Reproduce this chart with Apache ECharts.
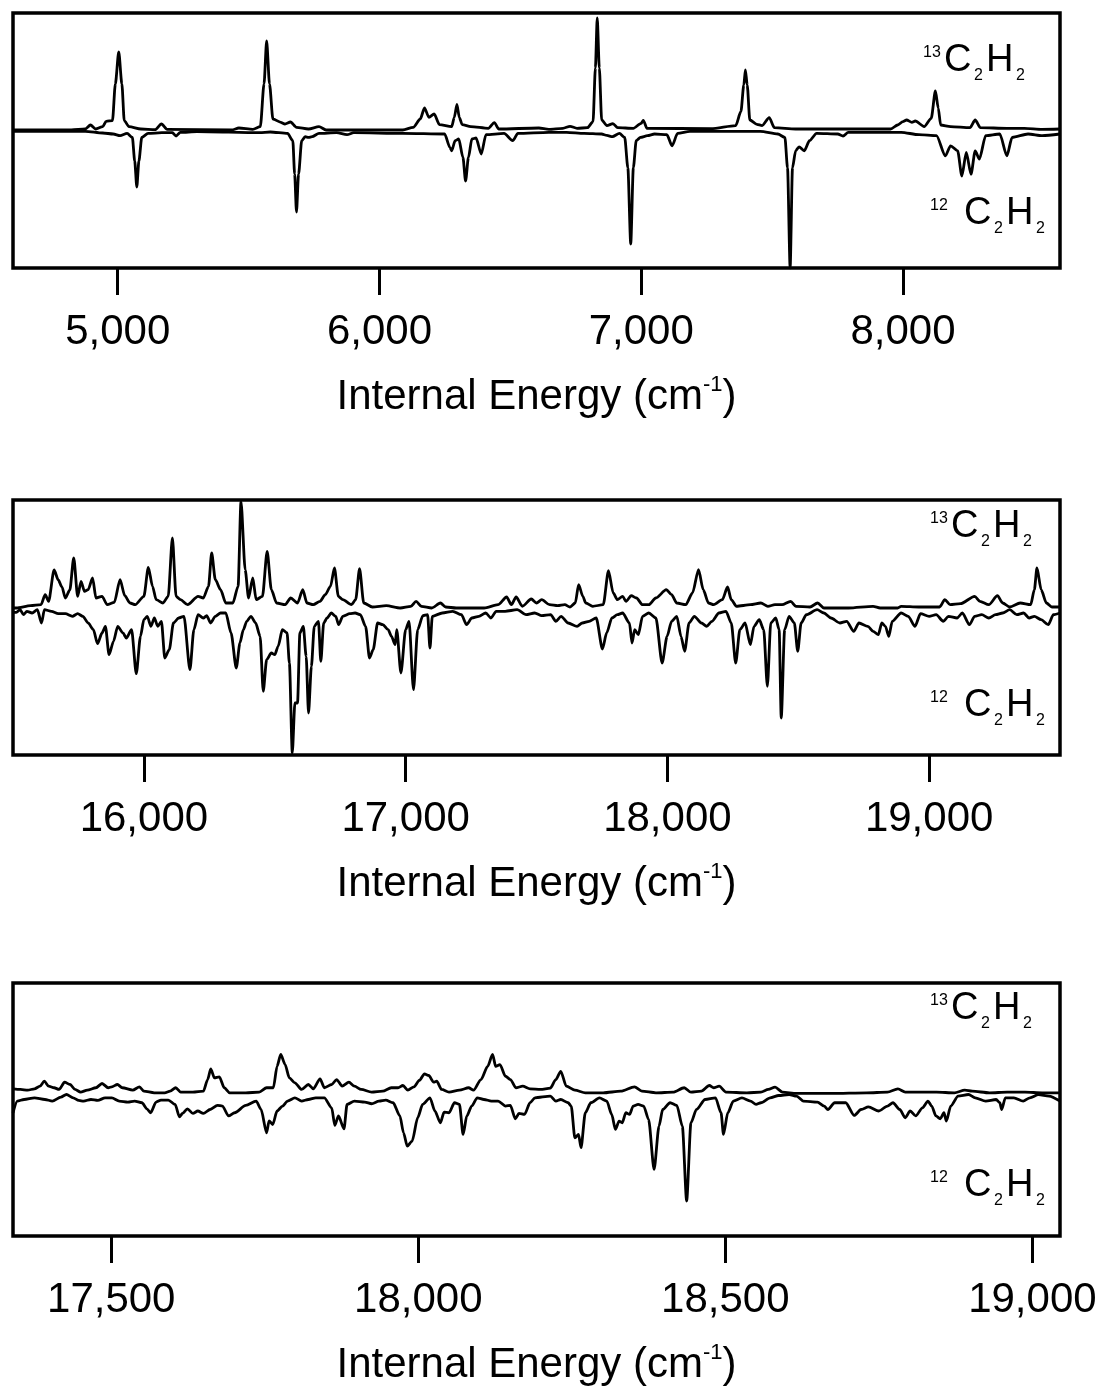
<!DOCTYPE html>
<html><head><meta charset="utf-8">
<script src="https://cdn.jsdelivr.net/npm/echarts@6/dist/echarts.min.js"></script>
<style>html,body{margin:0;padding:0;background:#fff}#c{width:1101px;height:1387px}</style>
</head><body><div id="c"></div>
<script>
// ---------- tick labels (cm-1) ----------
const ticks1 = [5000, 6000, 7000, 8000];
const ticks2 = [16000, 17000, 18000, 19000];
const ticks3 = [17500, 18000, 18500, 19000];

// ---------- panel 1 : 4600-8600 cm-1 ----------
const c13_p1 = [[4600,0],[4823,0],[4876,1],[4896,5],[4916,1],[4943,3.4],[4956,8.7],[4980,9.4],[4991,46],[5004,78],[5016,46],[5025,9.4],[5043,3.4],[5089,1],[5143,0.3],[5167,6],[5189,0.7],[5436,0],[5463,2],[5516,0.7],[5545,3.4],[5559,46],[5569,89],[5580,46],[5593,11],[5623,7.7],[5639,6],[5660,8],[5683,2.7],[5729,1],[5769,3.4],[5796,0],[6089,0],[6129,2.7],[6156,11],[6172,22],[6189,12.7],[6209,16],[6229,5.4],[6276,3.4],[6286,12.7],[6296,25.5],[6305,12.7],[6316,5.4],[6349,3.4],[6416,1.7],[6439,7.4],[6456,1],[6609,2],[6647,0.7],[6701,1.7],[6728,3.7],[6755,1.7],[6795,2.3],[6816,8.4],[6825,62],[6832,112],[6840,62],[6849,10],[6869,4.4],[6892,6.4],[6910,2.3],[6970,1.7],[7000,6.7],[7008,9.7],[7022,1.7],[7267,1.3],[7361,4.4],[7381,18.5],[7392,45],[7398,60],[7405,45],[7415,10],[7442,5.7],[7462,4.4],[7489,12.4],[7509,2.3],[7590,1],[7953,1],[7980,5],[8000,8.4],[8014,10],[8034,7.7],[8047,9],[8081,3.4],[8108,11.7],[8124,39],[8135,21.8],[8144,5],[8182,3.4],[8256,2.3],[8276,10],[8296,2.3],[8397,1.7],[8464,1.7],[8532,0.7],[8600,1]];
const c12_p1 = [[4600,-1.3],[4876,-1.3],[4943,-3],[4983,-4],[5009,-5.7],[5036,-3.4],[5056,-7.4],[5065,-31],[5073,-57],[5081,-31],[5092,-7.4],[5116,-3.4],[5169,-2.7],[5209,-2.7],[5223,-6],[5239,-2.3],[5303,-1.7],[5543,-2.7],[5583,-2],[5649,-3.4],[5669,-10.7],[5676,-44],[5683,-82],[5691,-44],[5703,-10.7],[5716,-6.7],[5729,-7.4],[5743,-6.7],[5769,-3.4],[5836,-2.7],[5876,-4.7],[5902,-2.7],[6089,-3.4],[6249,-4],[6269,-17.4],[6276,-20.8],[6289,-10.7],[6303,-9],[6319,-27.5],[6329,-51],[6340,-27.5],[6353,-9],[6369,-8],[6389,-24],[6407,-4.7],[6476,-3.4],[6509,-10.7],[6529,-3.4],[6647,-2.3],[6715,-2.3],[6782,-3.4],[6849,-4],[6869,-5.4],[6890,-6.7],[6917,-3.4],[6937,-7.4],[6949,-37.6],[6960,-114],[6970,-37.6],[6981,-10.7],[6997,-7.4],[7024,-5.7],[7051,-4],[7098,-4.7],[7118,-15.8],[7139,-3.4],[7186,-1.3],[7455,-1.3],[7522,-4],[7549,-7.4],[7559,-37.6],[7569,-138],[7578,-37.6],[7590,-20.8],[7603,-16.8],[7623,-20.8],[7643,-10.7],[7670,-3.4],[7751,-4],[7771,-6],[7791,-2.3],[7993,-2.3],[8061,-4.7],[8128,-5.7],[8162,-25.8],[8182,-15.8],[8209,-20.8],[8225,-46],[8242,-22.5],[8260,-44.3],[8276,-20.8],[8292,-29],[8316,-5.7],[8370,-4],[8397,-25.8],[8417,-7.4],[8478,-4],[8532,-5.7],[8600,-4]];

// ---------- panel 2 : 15500-19500 cm-1 ----------
const c13_p2 = [[15500,-1],[15513,-1],[15567,1.3],[15607,2.3],[15623,12.3],[15636,5.7],[15657,37],[15673,27],[15687,20],[15700,9],[15717,17],[15732,49],[15747,10.7],[15760,25.7],[15773,15.7],[15787,17.3],[15804,29],[15817,9],[15840,10.7],[15860,2.3],[15887,4.7],[15909,27.3],[15927,11.3],[15947,4],[15967,2.3],[16000,10.7],[16017,39.7],[16033,20.7],[16047,7.3],[16073,4],[16093,10.7],[16109,69],[16123,10.7],[16140,7.3],[16167,2.3],[16207,10.7],[16227,9],[16247,20.7],[16259,54],[16273,27.3],[16293,17.3],[16313,4],[16340,4],[16360,20.7],[16371,105.7],[16387,37.3],[16400,9],[16416,29],[16429,7.3],[16453,10.7],[16471,55.7],[16487,17.3],[16507,4],[16540,2.3],[16561,9],[16587,4],[16607,17.3],[16623,4],[16647,2.3],[16673,5.7],[16693,12.3],[16713,20.7],[16728,39],[16743,10.7],[16760,7.3],[16793,2.3],[16809,7.3],[16824,38.3],[16840,4],[16873,0],[16926,1.3],[16980,-1],[17020,0.7],[17040,5.7],[17060,0.7],[17100,-1],[17133,4],[17153,0],[17193,-1],[17300,-1],[17353,2.3],[17386,10],[17404,2.3],[17422,10],[17446,0.7],[17480,8],[17500,4],[17520,7.3],[17550,2.3],[17581,1.3],[17608,2.3],[17628,0],[17648,4],[17661,22.3],[17677,10.7],[17688,4],[17715,0.7],[17755,2.3],[17775,36.3],[17793,14],[17809,7.3],[17829,10.7],[17842,5.7],[17862,11.3],[17882,9],[17905,2.3],[17929,2.3],[17956,9],[17996,17.3],[18016,12.3],[18036,4],[18070,2.3],[18096,14],[18119,37.3],[18137,17.3],[18157,4],[18177,2.3],[18210,7.3],[18230,20],[18244,7.3],[18264,0.7],[18317,2.3],[18357,4],[18384,0.7],[18411,2.3],[18438,2.3],[18471,5.7],[18491,0.7],[18545,0],[18574,4],[18598,-1],[18692,-1],[18786,0.7],[18813,-1],[18880,-1],[18893,0.7],[18960,0],[19040,0],[19060,7.3],[19080,2.3],[19120,3.3],[19174,10.7],[19194,5.7],[19228,2.3],[19261,11.3],[19281,4],[19308,0],[19348,4],[19388,2.3],[19402,17.3],[19412,39],[19428,17.3],[19448,4],[19469,0],[19500,0]];
const c12_p2 = [[15500,-5.3],[15513,-5.3],[15527,-2.7],[15540,-7.7],[15553,-4.3],[15573,-6],[15593,-2.7],[15609,-16],[15620,-2.7],[15647,-4.3],[15673,-6.7],[15700,-6.7],[15727,-9.3],[15747,-6.7],[15767,-9.3],[15787,-16],[15807,-22.7],[15823,-36.7],[15840,-26],[15853,-19.3],[15867,-47.7],[15884,-34.3],[15900,-19.3],[15920,-26],[15933,-31],[15953,-22.7],[15971,-66.7],[15987,-29.3],[16000,-12.7],[16013,-9.3],[16027,-19.3],[16040,-11],[16053,-19.3],[16067,-14.3],[16080,-51],[16097,-42.7],[16113,-16],[16133,-11],[16153,-9.3],[16176,-62.7],[16191,-22.7],[16207,-7.7],[16227,-11],[16240,-8.7],[16255,-16],[16273,-9.3],[16293,-6],[16313,-6],[16333,-26],[16353,-61],[16367,-36],[16380,-22.7],[16393,-14.3],[16409,-9.3],[16427,-16],[16444,-29.3],[16456,-84.3],[16469,-52.7],[16487,-46],[16500,-47.7],[16513,-39.3],[16529,-22.7],[16547,-26],[16556,-56],[16567,-146],[16577,-96],[16587,-96],[16596,-26],[16609,-19.3],[16620,-49.3],[16629,-106],[16640,-59.3],[16651,-19.3],[16667,-14.3],[16676,-54.3],[16687,-16],[16700,-11],[16716,-6],[16733,-9.3],[16744,-17.7],[16760,-9.3],[16787,-6.7],[16807,-6],[16827,-7.7],[16847,-19.3],[16862,-51],[16876,-42.7],[16893,-16],[16913,-17.7],[16933,-22.7],[16946,-29.3],[16960,-37.7],[16966,-22.7],[16982,-66],[17000,-22.7],[17013,-14.3],[17030,-82.7],[17046,-22.7],[17066,-8.7],[17084,-7.7],[17093,-41],[17102,-9.3],[17140,-6],[17180,-4.3],[17213,-7.7],[17233,-17.7],[17253,-11],[17280,-9.3],[17306,-6],[17326,-11],[17346,-4.3],[17380,-4.3],[17426,-2.7],[17460,-7.7],[17493,-6],[17520,-8.7],[17554,-7.7],[17574,-14.3],[17594,-9.3],[17621,-16],[17655,-19.3],[17675,-16],[17701,-14.3],[17728,-11],[17752,-42],[17768,-26],[17788,-11],[17809,-7.7],[17829,-6],[17855,-16],[17865,-36],[17875,-22.7],[17889,-27.7],[17905,-9.3],[17929,-6],[17956,-11],[17980,-56],[17999,-29.3],[18016,-14.3],[18036,-9.3],[18052,-29.3],[18066,-44.3],[18083,-16],[18103,-9.3],[18130,-16],[18150,-19.3],[18170,-14.3],[18197,-6],[18224,-4.3],[18244,-16],[18261,-56],[18277,-22.7],[18297,-16],[18317,-37.7],[18331,-19.3],[18351,-12.7],[18368,-22.7],[18382,-79.3],[18395,-16],[18414,-11],[18427,-22.7],[18435,-111],[18448,-22.7],[18465,-9.3],[18485,-16],[18498,-44.3],[18511,-16],[18531,-7.7],[18572,-2.7],[18598,-6],[18625,-11],[18659,-16],[18685,-14.3],[18712,-24.3],[18732,-16],[18766,-19.3],[18786,-24.3],[18806,-27.7],[18819,-16],[18833,-19.3],[18846,-29.3],[18859,-14.3],[18893,-6],[18920,-9.3],[18946,-19.3],[18967,-6.7],[19000,-9.3],[19027,-7.7],[19054,-14.3],[19074,-9.3],[19107,-11],[19127,-6],[19154,-17.7],[19174,-9.3],[19201,-7.7],[19228,-11],[19254,-7.7],[19281,-6],[19308,-2.7],[19335,-7.7],[19361,-6],[19382,-11],[19402,-9.3],[19428,-12.7],[19455,-17.7],[19475,-7.7],[19500,-6]];

// ---------- panel 3 : 17340-19045 cm-1 ----------
const c13_p3 = [[17340,2.3],[17352,1.7],[17364,1],[17375,2.3],[17384,5],[17391,10],[17398,5],[17407,3.4],[17415,1.7],[17424,9],[17433,6.7],[17441,1.7],[17450,-1],[17461,1],[17475,3.4],[17485,7.7],[17495,3.4],[17501,4.4],[17510,6.7],[17518,3.4],[17535,1],[17546,4.4],[17553,0],[17570,-1.7],[17587,-1.7],[17596,0],[17605,3.4],[17613,-1],[17633,-1],[17650,0],[17657,11.7],[17662,22.5],[17668,13.4],[17676,14.4],[17684,3.4],[17693,-1.7],[17719,-1.7],[17741,-1],[17753,3.4],[17764,3.4],[17770,25],[17776,37],[17783,27],[17790,13.4],[17799,8.4],[17810,1.7],[17821,6.7],[17829,2.3],[17840,12.4],[17847,3.4],[17859,6.7],[17867,11.7],[17876,5],[17887,9],[17896,5],[17907,1.7],[17924,-1],[17942,0],[17956,3.4],[17967,3.4],[17975,5.7],[17983,1],[17993,4.4],[18002,11],[18010,17.4],[18017,15.8],[18025,9],[18030,10],[18038,1.7],[18050,-1],[18067,1],[18082,3.4],[18090,1],[18102,11.7],[18113,25],[18121,37],[18126,25],[18133,26.8],[18142,15],[18150,11.7],[18159,3.4],[18170,5],[18182,2.3],[18199,1.7],[18215,3],[18224,11.7],[18232,20],[18241,5],[18255,1],[18272,-1.7],[18301,-1.7],[18330,0],[18352,4.4],[18364,0],[18387,-1.7],[18415,-1],[18433,3.4],[18444,-1],[18461,0],[18474,5.7],[18481,3.4],[18490,5],[18501,-1],[18535,-1.7],[18558,-1],[18570,1.7],[18581,4],[18593,-1],[18616,-2.3],[18673,-2.3],[18730,-1.7],[18764,-1],[18781,2.3],[18793,-1],[18844,-1],[18873,-1.7],[18890,1],[18902,0],[18930,-1.7],[18959,-1],[18988,-1],[19016,-1.7],[19045,-1.7]];
const c12_p3 = [[17340,-21.8],[17347,-10],[17358,-8.4],[17375,-6.7],[17392,-8.4],[17404,-10],[17418,-6],[17427,-3.4],[17438,-6.7],[17447,-9.4],[17455,-10],[17467,-8.4],[17478,-9.4],[17490,-6.7],[17501,-6.7],[17513,-10],[17527,-11],[17538,-10],[17550,-11.7],[17558,-17.8],[17564,-21.8],[17573,-11],[17581,-9],[17593,-9],[17604,-13.4],[17611,-25.8],[17616,-22.5],[17624,-17.8],[17633,-22.5],[17641,-20],[17650,-22.5],[17661,-18.5],[17673,-14.4],[17681,-15],[17691,-25],[17701,-21.8],[17719,-14.4],[17736,-10],[17744,-18.5],[17753,-42],[17757,-30],[17763,-33.6],[17770,-20],[17779,-15],[17787,-10],[17799,-6.7],[17810,-10],[17821,-8.4],[17833,-6.7],[17847,-6.7],[17859,-16.8],[17864,-34.6],[17870,-25],[17879,-38],[17884,-13.4],[17896,-10],[17913,-11],[17924,-12.7],[17936,-10],[17947,-9],[17959,-11.7],[17970,-25],[17976,-42],[17982,-55.4],[17990,-50.3],[17999,-26.8],[18007,-13.4],[18019,-6.7],[18027,-20],[18036,-31.9],[18042,-21.1],[18050,-21.8],[18059,-11.7],[18067,-13.4],[18073,-43.6],[18079,-25],[18087,-15],[18096,-6.7],[18107,-8.4],[18119,-10],[18130,-10],[18142,-15],[18150,-14.4],[18158,-27.8],[18164,-22.5],[18173,-23.5],[18182,-11.7],[18190,-6.7],[18215,-5],[18224,-10],[18232,-8.4],[18244,-11.7],[18249,-15],[18255,-47],[18261,-43.6],[18265,-57],[18272,-21.8],[18281,-11.7],[18295,-6.7],[18307,-10],[18315,-23.5],[18321,-38.6],[18327,-30.2],[18332,-31.9],[18338,-21.8],[18344,-23.5],[18350,-15],[18358,-13.4],[18367,-15],[18375,-28.5],[18384,-78.8],[18392,-35.2],[18398,-18.5],[18410,-11.7],[18421,-14.4],[18430,-35.2],[18437,-110.7],[18444,-31.9],[18453,-18.5],[18467,-8.4],[18484,-6.7],[18493,-21.8],[18497,-43.6],[18504,-21.8],[18513,-10],[18527,-6.7],[18541,-10],[18550,-13.4],[18558,-11.7],[18573,-6.7],[18587,-4.4],[18604,-3.4],[18616,-5],[18627,-10],[18650,-11],[18661,-15],[18667,-18.5],[18678,-11.7],[18696,-11.7],[18710,-24.5],[18721,-18.5],[18733,-15.8],[18750,-20],[18764,-15],[18773,-11.7],[18784,-18.5],[18793,-26.8],[18801,-20],[18810,-25],[18821,-16.8],[18830,-10],[18836,-15],[18843,-25],[18850,-27.8],[18856,-21.8],[18860,-30.2],[18867,-15],[18879,-5],[18896,-3.4],[18907,-6.7],[18924,-10],[18941,-8.4],[18947,-11.7],[18950,-18.5],[18956,-6.7],[18970,-6.7],[18985,-10],[18996,-6.7],[19010,-3.4],[19027,-5],[19045,-10]];

// ---------- layout / style ----------
const FONT = '"Liberation Sans", Arial, Helvetica, sans-serif';
const panels = [
  {top: 13,  xMin: 4600,  xMax: 8600,  yMin: -138, yMax: 117, ticks: ticks1, upper: c13_p1, lower: c12_p1, lab: [923, 61, 930, 214]},
  {top: 500, xMin: 15500, xMax: 19500, yMin: -148, yMax: 107, ticks: ticks2, upper: c13_p2, lower: c12_p2, lab: [930, 527, 930, 706]},
  {top: 983, xMin: 17340, xMax: 19045, yMin: -146, yMax: 109, ticks: ticks3, upper: c13_p3, lower: c12_p3, lab: [930, 1009, 930, 1186]}
];
const fmt = v => String(v).replace(/\B(?=(\d{3})+(?!\d))/g, ',');

const grids = [], xAxes = [], yAxes = [], series = [], graphics = [];
panels.forEach((p, i) => {
  grids.push({left: 13, top: p.top, width: 1047, height: 255, show: true,
              borderColor: '#000', borderWidth: 3.5, backgroundColor: 'transparent'});
  xAxes.push({
    type: 'value', gridIndex: i, min: p.xMin, max: p.xMax, position: 'bottom',
    axisLine: {show: false, onZero: false}, splitLine: {show: false},
    axisTick: {show: true, inside: false, length: 27, customValues: p.ticks, lineStyle: {color: '#000', width: 3}},
    axisLabel: {show: true, customValues: p.ticks, margin: 43, fontSize: 42, fontFamily: FONT, color: '#000', formatter: fmt},
    name: '{t|Internal Energy (cm}{s|-1}{t|)}', nameLocation: 'middle', nameGap: 106,
    nameTextStyle: {color: '#000', fontFamily: FONT, fontSize: 42,
      rich: {t: {fontSize: 42, fontFamily: FONT, color: '#000', lineHeight: 46},
             s: {fontSize: 22, fontFamily: FONT, color: '#000', verticalAlign: 'top', lineHeight: 22}}}
  });
  yAxes.push({type: 'value', gridIndex: i, min: p.yMin, max: p.yMax, show: false});
  series.push({type: 'line', xAxisIndex: i, yAxisIndex: i, data: p.lower, symbol: 'none', showSymbol: false,
               smooth: 0.25, smoothMonotone: 'x', lineStyle: {color: '#000', width: 2.8}, z: 2});
  series.push({type: 'line', xAxisIndex: i, yAxisIndex: i, data: p.upper, symbol: 'none', showSymbol: false,
               smooth: 0.25, smoothMonotone: 'x', lineStyle: {color: '#000', width: 2.8}, z: 3});

  // species labels: 13C2H2 (upper) and 12 C2H2 (lower)
  const txt = (x, y, s, size) => graphics.push({type: 'text', x: x, y: y, z: 10,
      style: {text: s, fontSize: size, fontFamily: FONT, fill: '#000',
              align: 'left', verticalAlign: 'middle', textAlign: 'left', textVerticalAlign: 'middle'}});
  const [ux, uy, lx, ly] = p.lab;
  txt(ux, uy - 8, '13', 16); txt(ux + 21, uy, 'C', 38); txt(ux + 51, uy + 15, '2', 16);
  txt(ux + 63, uy, 'H', 38); txt(ux + 93, uy + 15, '2', 16);
  txt(lx, ly - 8, '12', 16); txt(lx + 34, ly, 'C', 38); txt(lx + 64, ly + 15, '2', 16);
  txt(lx + 76, ly, 'H', 38); txt(lx + 106, ly + 15, '2', 16);
});

const chart = echarts.init(document.getElementById('c'), null, {renderer: 'canvas'});
chart.setOption({
  animation: false,
  backgroundColor: '#fff',
  grid: grids, xAxis: xAxes, yAxis: yAxes, series: series, graphic: graphics
});
</script>
</body></html>
